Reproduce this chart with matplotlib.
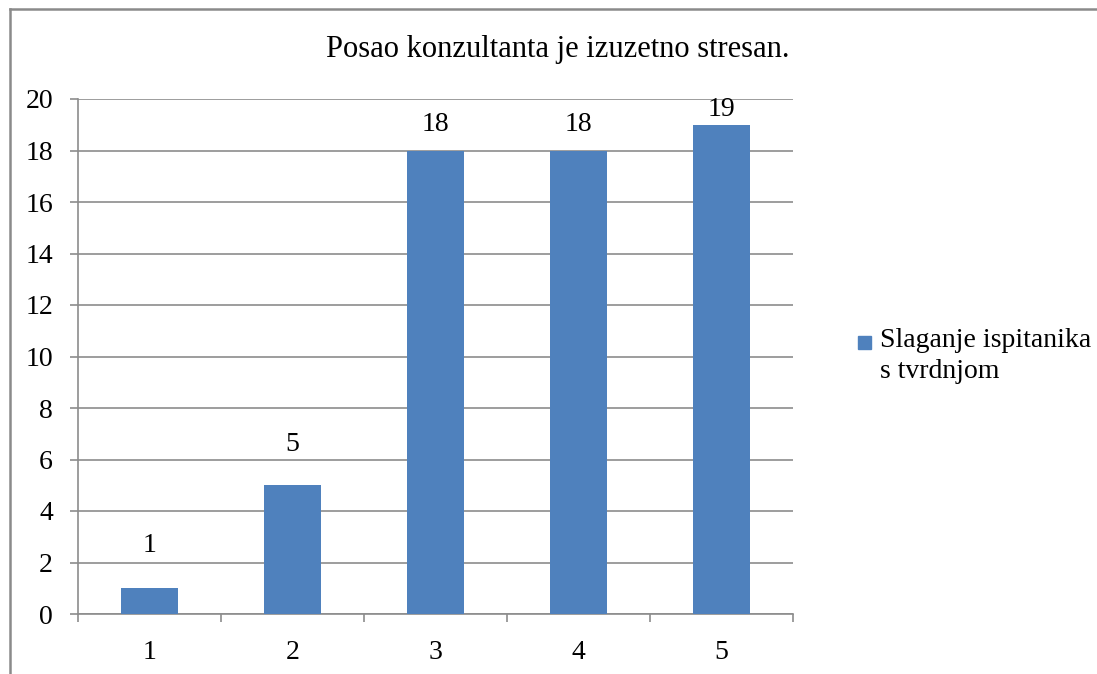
import matplotlib.pyplot as plt
from matplotlib.lines import Line2D
from matplotlib.patches import Rectangle

plt.rcParams['font.family'] = ['Liberation Serif', 'DejaVu Serif']

categories = ['1', '2', '3', '4', '5']
values = [1, 5, 18, 18, 19]
yticks = [0, 2, 4, 6, 8, 10, 12, 14, 16, 18, 20]
title = 'Posao konzultanta je izuzetno stresan.'
series_name = 'Slaganje ispitanika\ns tvrdnjom'

W, H = 1097, 674
bar_color = '#4F81BD'
grid_color = '#8C8C8C'
# label lift above each bar, in pixels (Excel squeezes the top ones)
label_lift = [43, 41, 26, 26, 15]

fig = plt.figure(figsize=(W / 100, H / 100), dpi=100, facecolor='white')

# outer chart frame (only top and left edges visible)
fig.add_artist(Line2D([10 / W, 10 / W], [0, 1 - 9 / H], color='#8A8A8A', lw=1.8))
fig.add_artist(Line2D([10 / W, 1], [1 - 9 / H, 1 - 9 / H], color='#8A8A8A', lw=1.8))

ax = fig.add_axes([78 / W, (H - 614) / H, 715 / W, 515 / H])
x = list(range(1, len(categories) + 1))
ax.bar(x, values, width=0.4, color=bar_color, zorder=3)

ax.set_xlim(0.5, len(categories) + 0.5)
ax.set_ylim(0, 20)
ax.set_yticks(yticks)
ax.yaxis.grid(True, color=grid_color, lw=1.2, zorder=0)
ax.set_xticks(x)
ax.set_xticklabels(categories)
ax.set_xticks([i + 0.5 for i in range(len(categories) + 1)], minor=True)
ax.tick_params(axis='x', which='major', length=0, pad=19, labelsize=20)
ax.tick_params(axis='x', which='minor', length=6, width=1.2, color=grid_color)
ax.tick_params(axis='y', length=6, width=1.2, color=grid_color, pad=12, labelsize=20)

for side in ['top', 'right']:
    ax.spines[side].set_visible(False)
for side in ['left', 'bottom']:
    ax.spines[side].set_color(grid_color)
    ax.spines[side].set_linewidth(1.2)

for xi, v, lift in zip(x, values, label_lift):
    ax.annotate(str(v), (xi, v), xytext=(0, lift * 0.72), textcoords='offset points',
                ha='center', va='center', fontsize=20, annotation_clip=False)

fig.text(558 / W, 1 - 49 / H, title, ha='center', va='center', fontsize=22)

# legend
fig.add_artist(Rectangle((858 / W, 1 - 349 / H), 13 / W, 13 / H,
                         transform=fig.transFigure, color=bar_color))
fig.text(880 / W, 1 - 328 / H, series_name, ha='left', va='top',
         fontsize=20, linespacing=1.3)

fig.savefig('out.png', dpi=100)
